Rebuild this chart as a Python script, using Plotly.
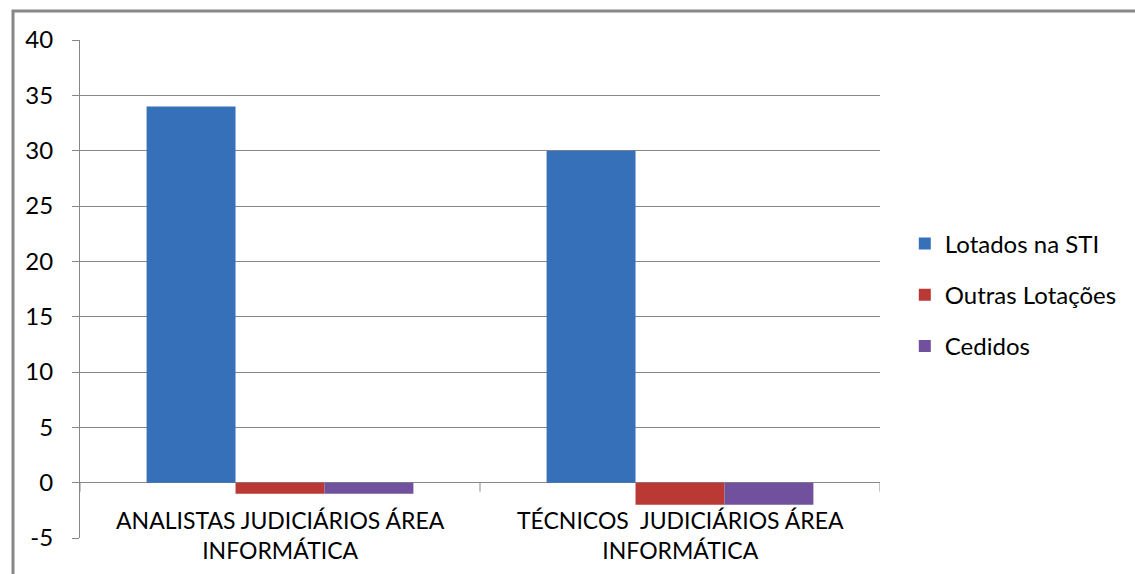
import plotly.graph_objects as go

# Staff counts per career category
categories = ["ANALISTAS JUDICIÁRIOS ÁREA<br>INFORMÁTICA",
              "TÉCNICOS\u00a0 JUDICIÁRIOS ÁREA<br>INFORMÁTICA"]
series_names = ["Lotados na STI", "Outras Lotações", "Cedidos"]
lotados_sti = [34, 30]
outras_lotacoes = [-1, -2]
cedidos = [-1, -2]
y_ticks = [-5, 0, 5, 10, 15, 20, 25, 30, 35, 40]
y_tick_labels = [str(v) for v in y_ticks]

colors = ["#3570B9", "#BA3935", "#71509D"]
series_values = [lotados_sti, outras_lotacoes, cedidos]

FONT = "Lato, 'Open Sans', sans-serif"
GRID = "#878787"

fig = go.Figure()
for i, (name, vals, col) in enumerate(zip(series_names, series_values, colors)):
    fig.add_trace(go.Bar(
        x=[0, 1], y=vals, name=name, legendgroup=name,
        marker=dict(color=col, line=dict(width=0)),
        hoverinfo="y+name",
    ))

fig.update_layout(
    width=1135, height=574,
    margin=dict(l=80, r=255, t=40, b=36),
    paper_bgcolor="white", plot_bgcolor="white",
    barmode="group", bargap=0.333, bargroupgap=0,
    font=dict(family=FONT, size=23, color="#000000"),
    showlegend=True,
    legend=dict(x=1.031, y=0.488, xanchor="left", yanchor="middle",
                tracegroupgap=17, font=dict(size=24, family=FONT),
                bgcolor="rgba(0,0,0,0)"),
    xaxis=dict(range=[-0.5, 1.5], showticklabels=False, showgrid=False,
               zeroline=False, showline=False, fixedrange=True),
    yaxis=dict(range=[-5, 40], tickvals=y_ticks, ticktext=y_tick_labels,
               showgrid=True,
               gridcolor=GRID, gridwidth=1, zeroline=True, zerolinecolor=GRID,
               zerolinewidth=1, showline=True, linecolor=GRID, linewidth=1,
               ticks="outside", ticklen=7, tickcolor=GRID,
               ticklabelstandoff=14,
               tickfont=dict(size=24, family=FONT)),
)

# Category labels below the zero line
for i, cat in enumerate(categories):
    fig.add_annotation(x=i, y=0, xref="x", yref="y", text=cat,
                       showarrow=False, yanchor="top", yshift=-21,
                       font=dict(size=23, family=FONT))

# Category boundary tick marks hanging from the zero line
for b in [-0.5, 0.5, 1.5]:
    fig.add_shape(type="line", xref="x", yref="y", x0=b, x1=b,
                  ysizemode="pixel", yanchor=0, y0=0, y1=-9,
                  line=dict(color=GRID, width=1))

# Outer chart border
fig.add_shape(type="rect", xref="paper", yref="paper",
              x0=(13 - 80) / 800, x1=(1140 - 80) / 800,
              y0=(538 - 580) / 498, y1=(538 - 11) / 498,
              line=dict(color="#878787", width=3), layer="below")

fig.write_html("out.html")
